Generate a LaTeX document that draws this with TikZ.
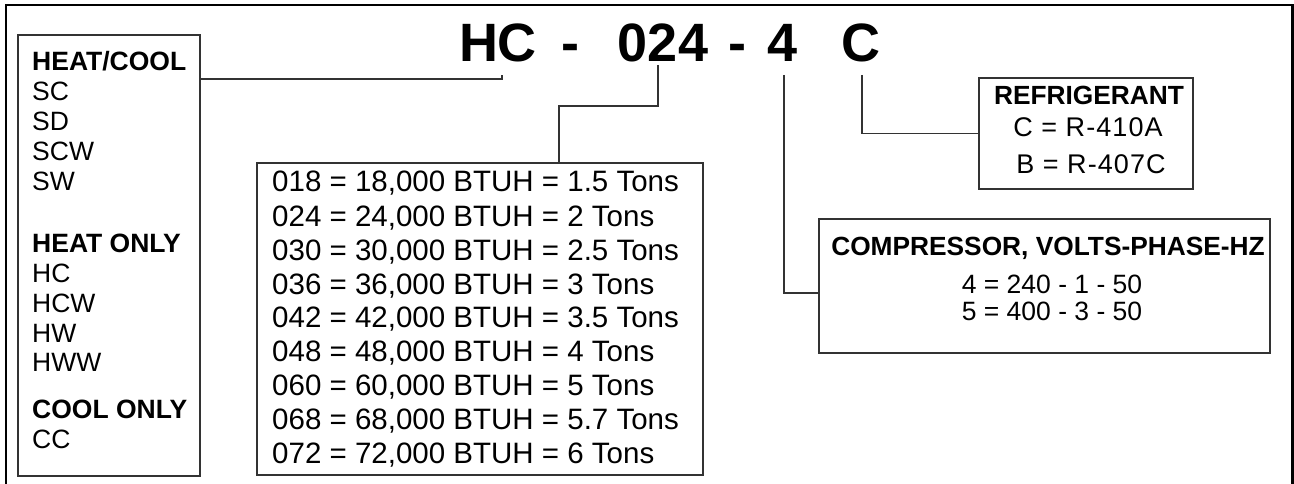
\documentclass[tikz,border=0pt]{standalone}
\usepackage{fontspec}
\setmainfont{Liberation Sans}
\begin{document}
\begin{tikzpicture}[x=1pt,y=-1pt,
  box/.style={draw=black!80, line width=1.3pt, inner sep=0pt, fill=none},
  conn/.style={draw=black!80, line width=1.3pt},
  frame/.style={draw=black, line width=2.2pt},
  title/.style={inner sep=0pt, anchor=base, font=\fontsize{54}{60}\selectfont\bfseries},
  lhead/.style={inner sep=0pt, anchor=base west, font=\fontsize{26.5}{30}\selectfont\bfseries},
  litem/.style={inner sep=0pt, anchor=base west, font=\fontsize{26.5}{30}\selectfont},
  capline/.style={inner sep=0pt, anchor=base west, font=\fontsize{29.5}{33}\selectfont},
  chead/.style={inner sep=0pt, anchor=base, font=\fontsize{26.3}{30}\selectfont\bfseries},
  citem/.style={inner sep=0pt, anchor=base, font=\fontsize{26.5}{30}\selectfont},
  ritem/.style={inner sep=0pt, anchor=base, font=\fontsize{27}{30}\selectfont\addfontfeatures{LetterSpace=4}},
]
\useasboundingbox (0,0) rectangle (1294,484);
% outer frame (bottom cut off)
\draw[frame] (6,500) -- (6,5) -- (1292.5,5) -- (1292.5,500);

% title code
\node[title] (tHC) at (498,62) {HC};
\node[title] (td1) at (570,62) {-};
\node[title] (t024) at (663,62) {024};
\node[title] (td2) at (737,62) {-};
\node[title] (t4) at (783,62) {4};
\node[title] (tC) at (861,62) {C};

% boxes
\node[box, minimum width=182pt, minimum height=441pt] (lbox) at (109,255.5) {};
\node[box, minimum width=446pt, minimum height=312pt] (capbox) at (480,319) {};
\node[box, minimum width=214pt, minimum height=111pt] (rbox) at (1086,133.5) {};
\node[box, minimum width=451pt, minimum height=134pt] (cbox) at (1044.5,286) {};

% left box text
\node[lhead] (lh1) at (32,71) {HEAT/COOL};
\node[litem] (l1) at (32,101) {SC};
\node[litem] (l2) at (32,131) {SD};
\node[litem] (l3) at (32,161) {SCW};
\node[litem] (l4) at (32,191) {SW};
\node[lhead] (lh2) at (32,252) {HEAT ONLY};
\node[litem] (l5) at (32,282) {HC};
\node[litem] (l6) at (32,312) {HCW};
\node[litem] (l7) at (32,342) {HW};
\node[litem] (l8) at (32,371) {HWW};
\node[lhead] (lh3) at (32,418) {COOL ONLY};
\node[litem] (l9) at (32,448) {CC};

% capacity text
\node[capline] (c1) at (272,192) {018 = 18,000 BTUH = 1.5 Tons};
\node[capline] (c2) at (272,226) {024 = 24,000 BTUH = 2 Tons};
\node[capline] (c3) at (272,260) {030 = 30,000 BTUH = 2.5 Tons};
\node[capline] (c4) at (272,294) {036 = 36,000 BTUH = 3 Tons};
\node[capline] (c5) at (272,327) {042 = 42,000 BTUH = 3.5 Tons};
\node[capline] (c6) at (272,361) {048 = 48,000 BTUH = 4 Tons};
\node[capline] (c7) at (272,395) {060 = 60,000 BTUH = 5 Tons};
\node[capline] (c8) at (272,429) {068 = 68,000 BTUH = 5.7 Tons};
\node[capline] (c9) at (272,463) {072 = 72,000 BTUH = 6 Tons};

% refrigerant text
\node[chead] (rh) at (1089,105) {REFRIGERANT};
\node[ritem] (r1) at (1088,137) {C = R-410A};
\node[ritem] (r2) at (1091,174) {B = R-407C};

% compressor text
\node[chead] (ch) at (1048,255) {COMPRESSOR, VOLTS-PHASE-HZ};
\node[citem] (k1) at (1052,293) {4 = 240 - 1 - 50};
\node[citem] (k2) at (1052,320) {5 = 400 - 3 - 50};

% connector anchor points
\coordinate (aHC) at (502,75);
\coordinate (jHC) at (502,79);
\coordinate (a024) at (658,65);
\coordinate (j024) at (559,106);
\coordinate (a4) at (784,75);
\coordinate (j4) at (820,293);
\coordinate (aC) at (862,75);

% connectors
\draw[conn] (lbox.east |- jHC) -- (jHC) -- (aHC);
\draw[conn] (a024) |- (j024) -- (j024 |- capbox.north);
\draw[conn] (a4) |- (cbox.west |- j4);
\draw[conn] (aC) |- (rbox.west);
\end{tikzpicture}
\end{document}
